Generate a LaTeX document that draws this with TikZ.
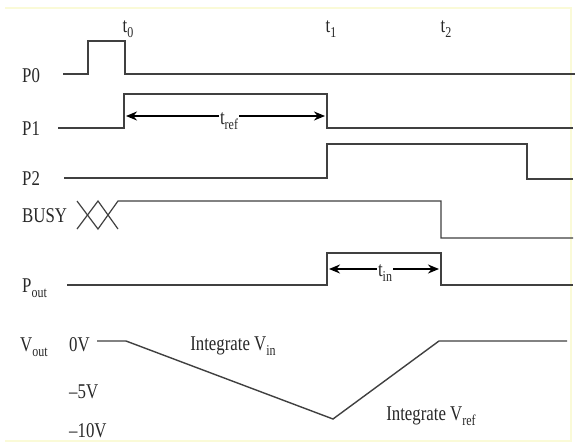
\documentclass[tikz,border=0pt]{standalone}
\usepackage{fontspec}
\setmainfont[FakeStretch=0.8]{Liberation Serif}
\usetikzlibrary{arrows.meta}
\definecolor{sigcol}{RGB}{64,64,64}
\definecolor{txtcol}{RGB}{40,40,40}
\definecolor{framecol}{RGB}{250,250,215}
\newcommand\sbs[1]{\raisebox{-5pt}{\fontsize{15}{17}\selectfont #1}}
\begin{document}
\begin{tikzpicture}[x=1pt,y=-1pt,
  sig/.style={draw=sigcol, line width=1.4pt, line join=miter},
  lbl/.style={anchor=base west, inner sep=0pt, text=txtcol, font=\fontsize{21}{24}\selectfont},
  clbl/.style={anchor=base, inner sep=0pt, text=txtcol, font=\fontsize{21}{24}\selectfont},
  gaplbl/.style={anchor=base, inner sep=1pt, fill=white, text=txtcol, font=\fontsize{21}{24}\selectfont},
  dimarrow/.style={draw=black, line width=2.4pt, -{Stealth[length=11pt,width=9pt]}},
  frame/.style={draw=framecol, line width=2pt}
]
\useasboundingbox (0,0) rectangle (576,442);
\fill[white] (0,0) rectangle (576,442);
% faint frame
\draw[frame] (5,8) -- (571,8) -- (571,441) -- (5,441);

% time labels
\node[clbl] (t0) at (128,32) {t\sbs{0}};
\node[clbl] (t1) at (331,32) {t\sbs{1}};
\node[clbl] (t2) at (446,32) {t\sbs{2}};

% signal labels
\node[lbl] (lP0) at (22,82) {P0};
\node[lbl] (lP1) at (22,135) {P1};
\node[lbl] (lP2) at (22,185) {P2};
\node[lbl] (lBUSY) at (22,222) {BUSY};
\node[lbl] (lPout) at (22,292) {P\sbs{out}};
\node[lbl] (lVout) at (20,351) {V\sbs{out}};
\node[lbl] (v0) at (69,351) {0V};
\node[lbl] (v5) at (69,398) {–5V};
\node[lbl] (v10) at (69,437) {–10V};

% P0
\draw[sig] (63,74) -- (88,74) -- (88,41) -- (125,41) -- (125,74) -- (575,74);
% P1
\draw[sig] (58,128) -- (124,128) -- (124,94) -- (327,94) -- (327,128) -- (573,128);
% P2
\draw[sig] (64,178) -- (327,178) -- (327,144) -- (527,144) -- (527,179) -- (573,179);
% BUSY
\draw[sig, line width=1.2pt] (77,201) -- (98,229) -- (118,201) -- (441,201) -- (441,238) -- (573,238);
\draw[sig, line width=1.2pt] (77,229) -- (98,201) -- (118,229);
% Pout
\draw[sig] (67,285) -- (327,285) -- (327,253) -- (441,253) -- (441,285) -- (573,285);
% Vout
\draw[sig] (97,341) -- (126,341) -- (333,419) -- (439,341) -- (567,341);

% t_ref dimension
\coordinate (refL) at (126,116);
\coordinate (refR) at (325,116);
\node[gaplbl] (tref) at (229,124) {t\sbs{ref}};
\draw[dimarrow] (tref.west |- refL) -- (refL);
\draw[dimarrow] (tref.east |- refR) -- (refR);

% t_in dimension
\coordinate (inL) at (329,269);
\coordinate (inR) at (439,269);
\node[gaplbl] (tin) at (385,276) {t\sbs{in}};
\draw[dimarrow] (tin.west |- inL) -- (inL);
\draw[dimarrow] (tin.east |- inR) -- (inR);

% annotations
\node[clbl] (intin) at (233,350) {Integrate V\sbs{in}};
\node[clbl] (intref) at (431,420) {Integrate V\sbs{ref}};
\end{tikzpicture}
\end{document}
